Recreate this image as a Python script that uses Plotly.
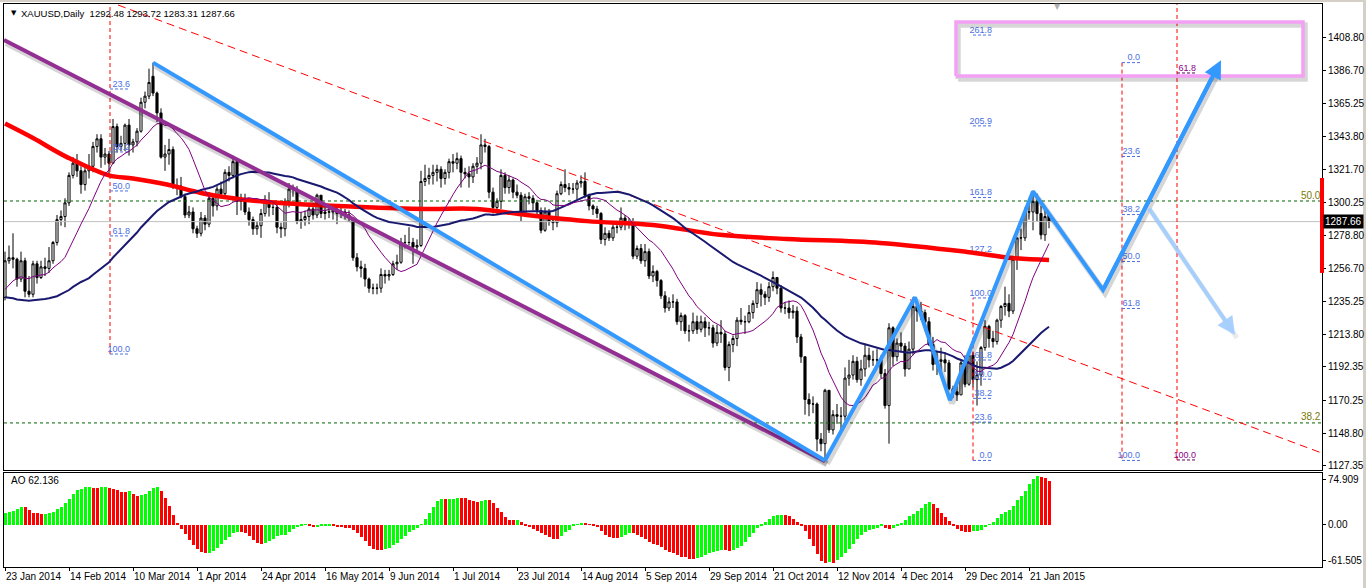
import numpy as np
import pandas as pd
import plotly.graph_objects as go

# ---------------- data ----------------
tick_labels = ["23 Jan 2014", "14 Feb 2014", "10 Mar 2014", "1 Apr 2014", "24 Apr 2014",
               "16 May 2014", "9 Jun 2014", "1 Jul 2014", "23 Jul 2014", "14 Aug 2014",
               "5 Sep 2014", "29 Sep 2014", "21 Oct 2014", "12 Nov 2014", "4 Dec 2014",
               "29 Dec 2014", "21 Jan 2015"]
tick_bars = [0, 16, 32, 48, 64, 80, 96, 112, 128, 144, 160, 176, 192, 208, 224, 240, 256]
price_ticks = [1408.80, 1386.70, 1365.25, 1343.80, 1321.70, 1300.25, 1278.80, 1256.70,
               1235.25, 1213.80, 1192.35, 1170.25, 1148.80, 1127.35]

# closes of the bars before the first visible bar (needed by the indicators)
pre_closes = [1269, 1271, 1287, 1287, 1274, 1274, 1242, 1243, 1244, 1241,
              1241, 1238, 1244, 1250, 1221, 1241, 1243, 1225, 1230, 1241,
              1260, 1255, 1227, 1235, 1241, 1231, 1216, 1193, 1203, 1197,
              1203, 1212, 1213, 1204, 1202, 1225, 1238, 1246, 1230, 1225,
              1229, 1247, 1254, 1245, 1242, 1241, 1254, 1254, 1241, 1238]

opens = [1238, 1262, 1264, 1263, 1250, 1262, 1242, 1240, 1260, 1251,
         1258, 1257, 1262, 1274, 1289, 1291, 1300, 1318, 1326, 1321,
         1312, 1321, 1324, 1337, 1342, 1330, 1332, 1326, 1350, 1337,
         1339, 1351, 1338, 1340, 1347, 1366, 1370, 1383, 1372, 1359,
         1330, 1332, 1335, 1311, 1311, 1304, 1292, 1294, 1283, 1280,
         1290, 1286, 1303, 1298, 1309, 1306, 1320, 1318, 1327, 1301,
         1303, 1294, 1289, 1283, 1285, 1293, 1301, 1297, 1297, 1284,
         1283, 1301, 1309, 1309, 1288, 1289, 1291, 1296, 1292, 1305,
         1293, 1294, 1294, 1295, 1293, 1294, 1292, 1290, 1264, 1258,
         1257, 1250, 1244, 1244, 1244, 1253, 1252, 1253, 1260, 1261,
         1274, 1274, 1274, 1271, 1272, 1314, 1316, 1318, 1320, 1322,
         1316, 1320, 1327, 1326, 1329, 1320, 1319, 1317, 1324, 1326,
         1338, 1337, 1307, 1297, 1301, 1318, 1310, 1315, 1307, 1305,
         1292, 1304, 1303, 1300, 1295, 1282, 1294, 1288, 1287, 1306,
         1312, 1310, 1309, 1309, 1313, 1314, 1305, 1298, 1296, 1293,
         1276, 1280, 1277, 1284, 1284, 1290, 1287, 1287, 1265, 1270,
         1262, 1268, 1252, 1255, 1249, 1239, 1231, 1235, 1235, 1222,
         1226, 1216, 1216, 1222, 1217, 1222, 1218, 1218, 1208, 1215,
         1214, 1192, 1207, 1211, 1223, 1222, 1222, 1228, 1234, 1243,
         1240, 1238, 1245, 1251, 1244, 1231, 1231, 1228, 1229, 1212,
         1199, 1171, 1168, 1168, 1145, 1142, 1177, 1151, 1161, 1160,
         1160, 1185, 1187, 1196, 1184, 1191, 1200, 1197, 1197, 1197,
         1188, 1167, 1218, 1199, 1208, 1206, 1191, 1204, 1232, 1229,
         1228, 1222, 1207, 1194, 1196, 1197, 1195, 1178, 1176, 1174,
         1195, 1181, 1200, 1184, 1187, 1205, 1219, 1211, 1209, 1223,
         1232, 1234, 1229, 1263, 1277, 1277, 1294, 1294, 1301, 1293,
         1279, 1292.48]

highs = [1268, 1272, 1280, 1264, 1268, 1264, 1252, 1262, 1262, 1262,
         1264, 1271, 1275, 1292, 1295, 1303, 1320, 1330, 1332, 1324,
         1324, 1332, 1340, 1345, 1345, 1336, 1334, 1355, 1352, 1344,
         1352, 1355, 1342, 1349, 1369, 1373, 1388, 1392, 1373, 1362,
         1338, 1342, 1337, 1316, 1317, 1306, 1298, 1297, 1285, 1294,
         1292, 1307, 1304, 1311, 1314, 1322, 1324, 1331, 1328, 1306,
         1306, 1297, 1291, 1288, 1296, 1305, 1307, 1301, 1300, 1287,
         1303, 1313, 1312, 1311, 1294, 1295, 1300, 1298, 1306, 1305,
         1298, 1298, 1297, 1297, 1298, 1296, 1295, 1290, 1267, 1262,
         1260, 1251, 1247, 1247, 1257, 1256, 1256, 1262, 1266, 1277,
         1279, 1284, 1277, 1276, 1321, 1325, 1323, 1325, 1325, 1324,
         1322, 1329, 1332, 1333, 1331, 1323, 1324, 1326, 1330, 1345,
         1342, 1338, 1310, 1303, 1322, 1320, 1318, 1316, 1312, 1307,
         1306, 1307, 1305, 1302, 1297, 1297, 1296, 1291, 1308, 1314,
         1322, 1313, 1313, 1315, 1318, 1320, 1306, 1299, 1298, 1294,
         1284, 1282, 1286, 1286, 1297, 1292, 1290, 1290, 1272, 1273,
         1273, 1270, 1259, 1256, 1250, 1242, 1238, 1240, 1237, 1228,
         1227, 1220, 1228, 1226, 1226, 1225, 1222, 1220, 1220, 1223,
         1216, 1209, 1213, 1225, 1231, 1226, 1233, 1236, 1248, 1247,
         1242, 1248, 1255, 1251, 1246, 1235, 1236, 1233, 1232, 1214,
         1199, 1175, 1173, 1169, 1149, 1178, 1177, 1164, 1168, 1166,
         1192, 1197, 1200, 1199, 1197, 1207, 1205, 1203, 1204, 1200,
         1191, 1221, 1219, 1211, 1215, 1208, 1209, 1238, 1233, 1235,
         1230, 1225, 1212, 1202, 1205, 1202, 1197, 1180, 1180, 1197,
         1200, 1202, 1202, 1196, 1206, 1223, 1220, 1216, 1224, 1233,
         1245, 1240, 1263, 1277, 1283, 1297, 1303, 1308, 1306, 1298,
         1298, 1293.72]

lows = [1236, 1260, 1257, 1245, 1248, 1238, 1238, 1238, 1247, 1250,
        1252, 1254, 1260, 1272, 1285, 1284, 1298, 1316, 1317, 1306,
        1308, 1316, 1320, 1333, 1323, 1325, 1319, 1326, 1333, 1334,
        1334, 1331, 1333, 1337, 1346, 1362, 1368, 1370, 1353, 1329,
        1321, 1325, 1309, 1305, 1303, 1290, 1290, 1280, 1277, 1278,
        1282, 1284, 1291, 1295, 1303, 1304, 1314, 1316, 1292, 1295,
        1292, 1285, 1279, 1279, 1277, 1291, 1291, 1292, 1280, 1277,
        1278, 1297, 1304, 1286, 1283, 1285, 1286, 1289, 1290, 1290,
        1289, 1290, 1289, 1286, 1290, 1289, 1288, 1262, 1255, 1251,
        1245, 1241, 1240, 1240, 1241, 1247, 1249, 1252, 1256, 1260,
        1270, 1272, 1260, 1267, 1271, 1311, 1312, 1312, 1314, 1310,
        1312, 1316, 1320, 1322, 1310, 1316, 1310, 1313, 1319, 1322,
        1333, 1303, 1293, 1292, 1296, 1306, 1306, 1303, 1303, 1288,
        1291, 1299, 1295, 1292, 1280, 1281, 1285, 1282, 1284, 1305,
        1307, 1305, 1306, 1302, 1310, 1303, 1295, 1292, 1290, 1273,
        1272, 1275, 1275, 1280, 1282, 1282, 1283, 1263, 1263, 1260,
        1258, 1250, 1248, 1245, 1237, 1228, 1229, 1231, 1220, 1216,
        1214, 1209, 1214, 1214, 1215, 1212, 1213, 1205, 1206, 1208,
        1190, 1183, 1202, 1206, 1220, 1214, 1221, 1224, 1231, 1232,
        1233, 1235, 1242, 1240, 1228, 1227, 1224, 1224, 1208, 1195,
        1161, 1160, 1162, 1137, 1137, 1131, 1149, 1148, 1155, 1150,
        1157, 1180, 1184, 1182, 1180, 1186, 1192, 1193, 1194, 1185,
        1165, 1142, 1193, 1196, 1202, 1186, 1191, 1200, 1222, 1223,
        1216, 1206, 1190, 1187, 1190, 1189, 1177, 1172, 1170, 1174,
        1179, 1180, 1179, 1167, 1180, 1203, 1205, 1205, 1207, 1218,
        1226, 1225, 1227, 1256, 1269, 1275, 1289, 1282, 1288, 1276,
        1275, 1283.31]

closes = [1262, 1264, 1263, 1250, 1262, 1242, 1240, 1260, 1251, 1258,
          1257, 1262, 1274, 1289, 1291, 1300, 1318, 1326, 1321, 1312,
          1321, 1324, 1337, 1342, 1330, 1332, 1326, 1350, 1337, 1339,
          1351, 1338, 1340, 1347, 1366, 1370, 1379, 1372, 1359, 1330,
          1332, 1335, 1311, 1311, 1304, 1292, 1294, 1283, 1280, 1290,
          1286, 1303, 1298, 1309, 1306, 1320, 1318, 1327, 1301, 1303,
          1294, 1289, 1283, 1285, 1293, 1301, 1297, 1297, 1284, 1283,
          1301, 1309, 1309, 1288, 1289, 1291, 1296, 1292, 1305, 1293,
          1294, 1294, 1295, 1293, 1294, 1292, 1290, 1264, 1258, 1257,
          1250, 1244, 1244, 1244, 1253, 1252, 1253, 1260, 1261, 1274,
          1274, 1274, 1271, 1272, 1314, 1316, 1318, 1320, 1322, 1316,
          1320, 1327, 1326, 1329, 1320, 1319, 1317, 1324, 1326, 1338,
          1337, 1307, 1297, 1301, 1318, 1310, 1315, 1307, 1305, 1292,
          1304, 1303, 1300, 1295, 1282, 1294, 1288, 1287, 1306, 1312,
          1310, 1309, 1309, 1313, 1314, 1305, 1298, 1296, 1293, 1276,
          1280, 1277, 1284, 1284, 1290, 1287, 1287, 1265, 1270, 1262,
          1268, 1252, 1255, 1249, 1239, 1231, 1235, 1235, 1222, 1226,
          1216, 1216, 1222, 1217, 1222, 1218, 1218, 1208, 1215, 1214,
          1192, 1207, 1211, 1223, 1222, 1222, 1228, 1234, 1243, 1240,
          1238, 1245, 1251, 1244, 1231, 1231, 1228, 1229, 1212, 1199,
          1171, 1168, 1168, 1145, 1142, 1177, 1151, 1161, 1160, 1160,
          1185, 1187, 1196, 1184, 1191, 1200, 1197, 1197, 1197, 1188,
          1167, 1218, 1199, 1208, 1206, 1191, 1204, 1232, 1229, 1228,
          1222, 1207, 1194, 1196, 1197, 1195, 1178, 1176, 1174, 1195,
          1181, 1200, 1184, 1187, 1205, 1219, 1211, 1209, 1223, 1232,
          1234, 1229, 1263, 1277, 1277, 1294, 1294, 1301, 1293, 1279,
          1291, 1287.66]

# 200-day moving average (bar index, value)
ma200_bars = [0, 7, 15.5, 26, 32, 40.5, 49, 57, 65.5, 89, 105.5, 118, 130.5, 145.5,
              162, 178.75, 195.5, 218.75, 240.5, 252, 261]
ma200_vals = [1352, 1342.5, 1330, 1318, 1316, 1312, 1306.5, 1303, 1300.6, 1297.3, 1296,
              1296, 1292, 1288, 1285.5, 1279, 1276.3, 1273.7, 1267.8, 1263.8, 1262.5]

# drawn objects (bar index, price)
purple_chan_bars = [-0.25, 205]
purple_chan_prices = [1406.8, 1130.5]
blue_chan_bars = [37, 205]
blue_chan_prices = [1392, 1131]
red_trend_bars = [28.25, 329.25]
red_trend_prices = [1429.8, 1135.8]
zigzag_bars = [205, 227.5, 236.25, 257, 274.5, 304]
zigzag_prices = [1131, 1238, 1170.5, 1307.5, 1242.8, 1393.5]
light_arrow_bars = [285.75, 307.5]
light_arrow_prices = [1297.3, 1213.3]
target_box_bars = [237.75, 324.5]
target_box_prices = [1383.2, 1418.6]

fib_left_x = [26.25, 31.25]
fib_left_labels = ["23.6", "38.2", "50.0", "61.8", "100.0"]
fib_left_levels = [1374.7, 1333.4, 1307.8, 1278.3, 1200.8]

fibA_x = [242, 246.75]
fibA_low, fibA_high = 1131.0, 1237.6
fibA_ratios = [0.0, 23.6, 38.2, 50.0, 61.8, 100.0, 127.2, 161.8, 205.9, 261.8]

fibB_x = [279.25, 283.75]
fibB_high, fibB_low = 1392.0, 1131.0
fibB_ratios = [0.0, 23.6, 38.2, 50.0, 61.8, 100.0]

fibC_x = [293, 297.75]
fibC_labels = ["61.8", "100.0"]
fibC_levels = [1385.2, 1131.3]

green_labels = ["50.0", "38.2"]
green_levels = [1301.2, 1155.6]

bid_price = 1287.66
range_bar = [1254.0, 1316.3]

# ---------------- indicators ----------------
n_pre = len(pre_closes)
all_close = pd.Series(pre_closes + closes, dtype=float)
median = pd.Series(pre_closes + [(h + l) / 2 for h, l in zip(highs, lows)], dtype=float)
ao_all = median.rolling(5).mean() - median.rolling(34).mean()
ao = ao_all.values[n_pre:]
ao_prev = ao_all.values[n_pre - 1:-1]
ao_colors = ["#00FF00" if a > p else "#FF0000" for a, p in zip(ao, ao_prev)]
sma13 = all_close.rolling(13).mean().values[n_pre:]
sma50 = all_close.rolling(50).mean().values[n_pre:]
bars = list(range(len(closes)))

# ---------------- figure ----------------
XR = [-0.25, 329.25]
YR = [1124.72, 1430.45]
FONT = "Liberation Sans"
FIBC = "#4A6FE3"

fig = go.Figure()

def line(xs, ys, color, width, dash=None, xa="x", ya="y"):
    fig.add_trace(go.Scatter(x=xs, y=ys, mode="lines", xaxis=xa, yaxis=ya,
                             line=dict(color=color, width=width, dash=dash),
                             hoverinfo="skip", showlegend=False))

def label(x, y, text, color, size=9):
    fig.add_trace(go.Scatter(x=[x], y=[y], mode="text", text=[text],
                             textposition="top left",
                             textfont=dict(family=FONT, size=size, color=color),
                             hoverinfo="skip", showlegend=False))

# horizontal levels
for lab, lev in zip(green_labels, green_levels):
    line(XR, [lev, lev], "#006400", 1, "3px,3px")
    label(XR[1] - 0.4, lev, lab, "#7A7A00", 10)
line(XR, [bid_price, bid_price], "#C0C0C0", 1)

# fib objects
line([fib_left_x[0], fib_left_x[0]], [fib_left_levels[-1], YR[1]], "#FF0000", 1, "4px,3px")
for lab, lev in zip(fib_left_labels, fib_left_levels):
    line(fib_left_x, [lev, lev], FIBC, 1, "3px,2px")
    label(fib_left_x[1], lev, lab, FIBC)

line([fibA_x[0], fibA_x[0]], [fibA_low, fibA_high], "#FF0000", 1, "4px,3px")
for r in fibA_ratios:
    lev = fibA_low + r / 100 * (fibA_high - fibA_low)
    line(fibA_x, [lev, lev], FIBC, 1, "3px,2px")
    label(fibA_x[1], lev, "%.1f" % r, FIBC)

line([fibB_x[0], fibB_x[0]], [fibB_high, fibB_low], "#FF0000", 1, "4px,3px")
for r in fibB_ratios:
    lev = fibB_high - r / 100 * (fibB_high - fibB_low)
    line(fibB_x, [lev, lev], FIBC, 1, "3px,2px")
    label(fibB_x[1], lev, "%.1f" % r, FIBC)

line([fibC_x[0], fibC_x[0]], [fibC_levels[-1], YR[1]], "#FF0000", 1, "4px,3px")
for lab, lev in zip(fibC_labels, fibC_levels):
    line(fibC_x, [lev, lev], "#5B005B", 1, "3px,2px")
    label(fibC_x[1], lev, lab, "#8B008B")

# red dashed trend line
line(red_trend_bars, red_trend_prices, "#FF0000", 1, "8px,5px")

# candles
fig.add_trace(go.Candlestick(
    x=bars, open=opens, high=highs, low=lows, close=closes,
    increasing=dict(line=dict(color="black", width=1), fillcolor="white"),
    decreasing=dict(line=dict(color="black", width=1), fillcolor="black"),
    whiskerwidth=0, hoverinfo="skip", showlegend=False))

# moving averages
fig.add_trace(go.Scatter(x=ma200_bars, y=ma200_vals, mode="lines",
                         line=dict(color="#FF0000", width=4.5, shape="spline"),
                         hoverinfo="skip", showlegend=False))
line(bars, sma50, "#191970", 2)
line(bars, sma13, "#800080", 1)

# thick drawn lines with a soft shadow
SH = "rgba(0,0,0,0.16)"
def thick(xs, ys, color, width=4):
    line([v + 0.5 for v in xs], [v - 2.0 for v in ys], SH, width + 2)
    line(xs, ys, color, width)

thick(purple_chan_bars, purple_chan_prices, "#932E93")
thick(blue_chan_bars, blue_chan_prices, "#3399FF")
thick(zigzag_bars[:-1] + [zigzag_bars[-1] - 1.2], zigzag_prices[:-1] + [zigzag_prices[-1] - 6], "#3399FF")
bx = [target_box_bars[0], target_box_bars[1], target_box_bars[1], target_box_bars[0], target_box_bars[0]]
by = [target_box_prices[0], target_box_prices[0], target_box_prices[1], target_box_prices[1], target_box_prices[0]]
thick(bx, by, "#F4A0F4", 3.5)
line([v + 0.5 for v in light_arrow_bars], [v - 2 for v in light_arrow_prices], "rgba(0,0,0,0.08)", 5)

# AO histogram
fig.add_trace(go.Bar(x=bars, y=ao, marker=dict(color=ao_colors, line=dict(width=0)),
                     width=0.75, xaxis="x2", yaxis="y2", hoverinfo="skip", showlegend=False))

# arrows
fig.add_annotation(x=zigzag_bars[-1], y=zigzag_prices[-1], ax=zigzag_bars[-2], ay=zigzag_prices[-2],
                   xref="x", yref="y", axref="x", ayref="y", text="", showarrow=True,
                   arrowhead=2, arrowsize=0.9, arrowwidth=4, arrowcolor="#3399FF")
fig.add_annotation(x=light_arrow_bars[1], y=light_arrow_prices[1], ax=light_arrow_bars[0],
                   ay=light_arrow_prices[0], xref="x", yref="y", axref="x", ayref="y", text="",
                   showarrow=True, arrowhead=2, arrowsize=0.9, arrowwidth=4,
                   arrowcolor="rgba(160,205,255,0.9)")

# right-axis elements
fig.add_shape(type="rect", xref="x domain", yref="y", x0=0.9985, x1=1.0015,
              y0=range_bar[0], y1=range_bar[1], fillcolor="#FF0000", line=dict(width=0))
fig.add_annotation(xref="x domain", yref="y", x=1.0, y=bid_price, text="%.2f" % bid_price,
                   xanchor="left", yanchor="middle", showarrow=False, bgcolor="black",
                   font=dict(family=FONT, size=10, color="white"), borderpad=1, xshift=1)

W, H = 1366, 588
ML, MR, MT, MB = 4, 44, 4, 21
PW, PH = W - ML - MR, H - MT - MB
def px(xp):
    return (xp - ML) / PW
def py(yp):
    return (H - MB - yp) / PH

# window frame (right strip and top line)
fig.add_shape(type="rect", xref="paper", yref="paper", x0=px(1363), x1=px(1366), y0=py(588), y1=py(0),
              fillcolor="#D4D0C8", line=dict(width=0), layer="below")
fig.add_shape(type="rect", xref="paper", yref="paper", x0=px(0), x1=px(1366), y0=py(2), y1=py(0),
              fillcolor="#D4D0C8", line=dict(width=0), layer="below")

fig.add_annotation(xref="paper", yref="paper", x=px(9), y=py(13), text="▼", showarrow=False,
                   xanchor="left", yanchor="middle", font=dict(family="DejaVu Sans", size=7, color="black"))
fig.add_annotation(xref="paper", yref="paper", x=px(19), y=py(13),
                   text="XAUUSD,Daily  1292.48 1293.72 1283.31 1287.66", showarrow=False,
                   xanchor="left", yanchor="middle", font=dict(family=FONT, size=9.5, color="black"))
fig.add_annotation(xref="paper", yref="paper", x=px(9), y=py(481), text="AO 62.136",
                   showarrow=False, xanchor="left", yanchor="middle",
                   font=dict(family=FONT, size=10, color="black"))
fig.add_annotation(xref="paper", yref="paper", x=px(1057), y=py(6), text="▼", showarrow=False,
                   xanchor="center", yanchor="middle", font=dict(family="DejaVu Sans", size=8, color="#B0B0B0"))

main_bottom = py(470)
ao_top = py(473)

axis_common = dict(showgrid=False, zeroline=False, showline=True, mirror=True,
                   linecolor="black", linewidth=1, automargin=False)

fig.update_layout(
    width=W, height=H, margin=dict(l=ML, r=MR, t=MT, b=MB, autoexpand=False),
    paper_bgcolor="white", plot_bgcolor="white", showlegend=False,
    boxgap=0.25, bargap=0, hovermode=False,
    font=dict(family=FONT, size=10, color="black"),
    xaxis=dict(domain=[0, 1], range=XR, anchor="y", showticklabels=False, ticks="",
               rangeslider=dict(visible=False), **axis_common),
    yaxis=dict(domain=[main_bottom, 1], range=YR, side="right", tickvals=price_ticks,
               ticktext=["%.2f" % v for v in price_ticks], ticks="outside", ticklen=3,
               tickcolor="black", tickfont=dict(family=FONT, size=10), **axis_common),
    xaxis2=dict(domain=[0, 1], range=XR, anchor="y2", matches="x", tickvals=tick_bars,
                ticktext=tick_labels, ticks="outside", ticklen=3, tickcolor="black",
                tickangle=0, ticklabelposition="outside right",
                tickfont=dict(family=FONT, size=10), **axis_common),
    yaxis2=dict(domain=[0, ao_top], range=[-61.505, 74.909], side="right", anchor="x2",
                tickvals=[66.0, 0.0, -51.5], ticktext=["74.909", "0.00", "-61.505"],
                ticks="outside", ticklen=3, tickcolor="black",
                tickfont=dict(family=FONT, size=10), **axis_common),
)

fig.write_html("out.html", config={"displayModeBar": False},
               post_script="document.body.style.margin='0';document.body.style.overflow='hidden';")
